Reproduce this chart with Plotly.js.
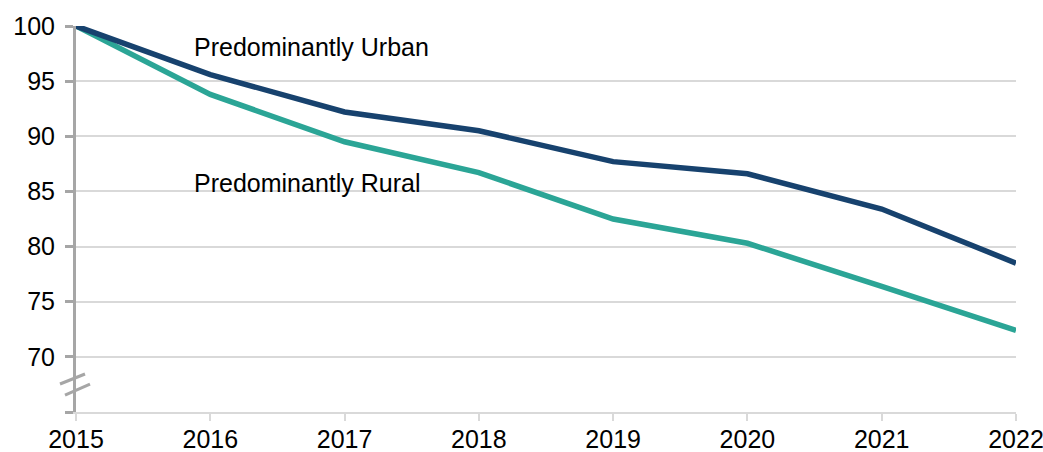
<!DOCTYPE html>
<html>
<head>
<meta charset="utf-8">
<script src="https://cdn.plot.ly/plotly-3.0.1.min.js"></script>
<style>html,body{margin:0;padding:0;background:#fff;}#chart{width:1043px;height:452px;}</style>
</head>
<body>
<div id="chart"></div>
<script>
const years = [2015, 2016, 2017, 2018, 2019, 2020, 2021, 2022];
const urban = [100, 95.6, 92.2, 90.5, 87.7, 86.6, 83.4, 78.5];
const rural = [100, 93.8, 89.5, 86.7, 82.5, 80.3, 76.4, 72.4];
const yTicks = [65, 70, 75, 80, 85, 90, 95, 100];
const yTickText = ['', '70', '75', '80', '85', '90', '95', '100'];
const seriesNames = ['Predominantly Urban', 'Predominantly Rural'];

const font = {family: 'Liberation Sans, Arial, sans-serif', size: 25, color: '#000'};

const traces = [
  {x: years, y: rural, mode: 'lines', name: seriesNames[1], line: {color: '#2BA596', width: 5.5}},
  {x: years, y: urban, mode: 'lines', name: seriesNames[0], line: {color: '#17426E', width: 5.5}}
];

const layout = {
  width: 1043, height: 452,
  margin: {l: 76, r: 27, t: 26, b: 40},
  paper_bgcolor: '#fff', plot_bgcolor: '#fff',
  showlegend: false,
  font: font,
  xaxis: {
    range: [2015, 2022], tickvals: years, ticktext: years.map(String),
    showline: true, linecolor: '#D9D9D9', linewidth: 2,
    ticks: 'outside', tickcolor: '#D9D9D9', ticklen: 7, tickwidth: 2,
    showgrid: false, zeroline: false, tickfont: font,
    ticklabeloverflow: 'allow', ticklabelstandoff: -3
  },
  yaxis: {
    range: [65, 100], tickvals: yTicks, ticktext: yTickText,
    showline: true, linecolor: '#A6A6A6', linewidth: 3,
    ticks: 'outside', tickcolor: '#A6A6A6', ticklen: 8, tickwidth: 3,
    showgrid: true, gridcolor: '#D9D9D9', gridwidth: 2,
    zeroline: false, tickfont: font, ticklabelstandoff: 5
  },
  annotations: [
    {x: 2015.864, y: 98.1, xref: 'x', yref: 'y', text: seriesNames[0], showarrow: false, xanchor: 'left', yanchor: 'middle', font: font},
    {x: 2015.864, y: 85.8, xref: 'x', yref: 'y', text: seriesNames[1], showarrow: false, xanchor: 'left', yanchor: 'middle', font: font}
  ],
  shapes: [
    {type: 'line', xref: 'paper', yref: 'paper', x0: -0.017, y0: 0.0725, x1: 0.0096, y1: 0.0984, line: {color: '#A6A6A6', width: 3}, layer: 'above'},
    {type: 'line', xref: 'paper', yref: 'paper', x0: -0.0117, y0: 0.044, x1: 0.0149, y1: 0.0725, line: {color: '#A6A6A6', width: 3}, layer: 'above'}
  ]
};

Plotly.newPlot('chart', traces, layout, {displayModeBar: false, staticPlot: true});
</script>
</body>
</html>
